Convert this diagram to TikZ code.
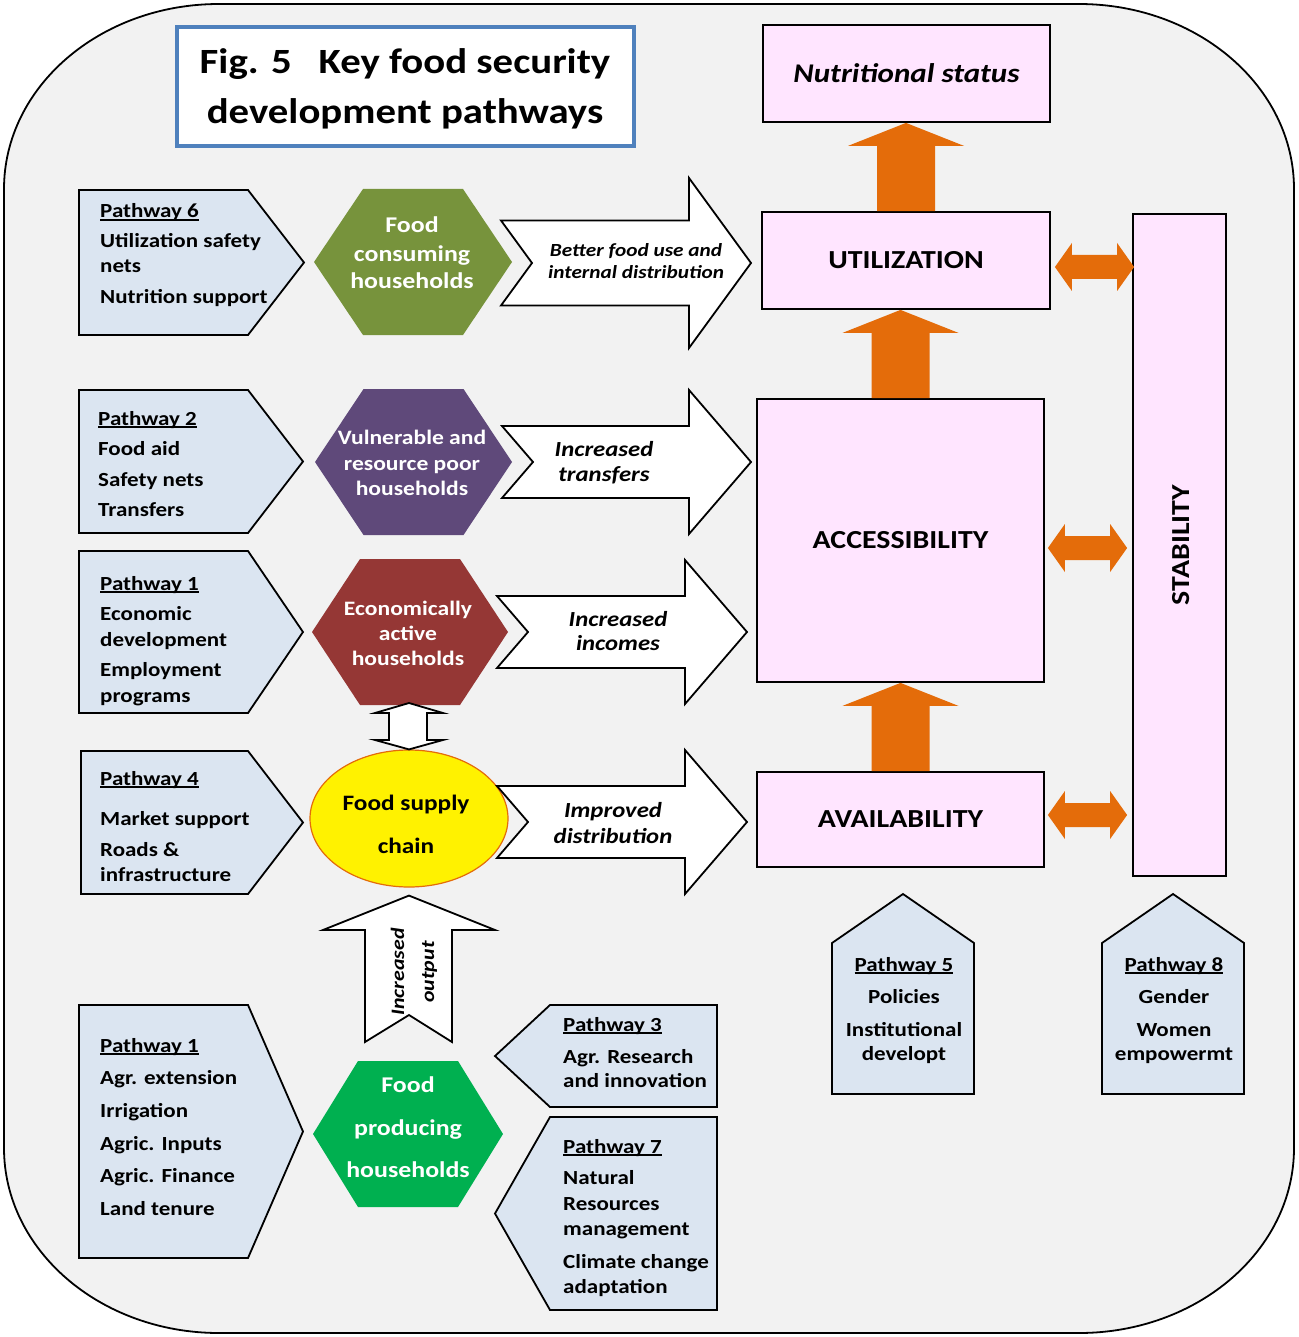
\documentclass[tikz,border=0pt]{standalone}
\usepackage{fontspec}
\setmainfont{Carlito}[FakeStretch=1.15]
\usetikzlibrary{calc,shapes.geometric}

\definecolor{bgrey}{HTML}{F2F2F2}
\definecolor{pathblue}{HTML}{DBE5F1}
\definecolor{boxpink}{HTML}{FFE5FF}
\definecolor{fsorange}{HTML}{E46C0A}
\definecolor{titleblue}{HTML}{4F81BD}
\definecolor{hexolive}{HTML}{77933C}
\definecolor{hexpurple}{HTML}{5F497A}
\definecolor{hexred}{HTML}{953735}
\definecolor{hexgreen}{HTML}{00B050}

% underlined pathway heading
\newsavebox\pwbox
\newcommand\pwul[1]{\sbox\pwbox{#1}\rlap{\rule[-2.6pt]{\wd\pwbox}{1.6pt}}\usebox\pwbox}

% pentagon box: x of flat side, top, bottom, x of corners, x of tip
\newcommand\pent[5]{\filldraw[pathbox] (#1,#2) -- (#4,#2) -- (#5,{(#2+#3)/2}) -- (#4,#3) -- (#1,#3) -- cycle;}
% house box: left, right, shoulder, peak, bottom
\newcommand\house[5]{\filldraw[pathbox] (#1,#5) -- (#1,#3) -- ({(#1+#2)/2},#4) -- (#2,#3) -- (#2,#5) -- cycle;}
% hexagon: centre x, centre y, half width, colour
\newcommand\hexa[4]{\fill[#4] ({#1-#3},#2) -- ({#1-50},{#2-73}) -- ({#1+50},{#2-73}) -- ({#1+#3},#2) -- ({#1+50},{#2+73}) -- ({#1-50},{#2+73}) -- cycle;}
% notched white arrow: tail x, tip x, mid y, shaft half, head half
\newcommand\flowarr[5]{\filldraw[whitearr] (#1,{#3-#4}) -- ({#2-62},{#3-#4}) -- ({#2-62},{#3-#5}) -- (#2,#3) -- ({#2-62},{#3+#5}) -- ({#2-62},{#3+#4}) -- (#1,{#3+#4}) -- ({#1+31},#3) -- cycle;}
% orange block arrow going up from #1 to #2
\newcommand\orangeup[2]{\fill[orarrow] ($(#1)+(-29,0)$) -- ($(#1 |- #2)+(-29,23)$) -- ($(#1 |- #2)+(-58,23)$) -- (#1 |- #2) -- ($(#1 |- #2)+(58,23)$) -- ($(#1 |- #2)+(29,23)$) -- ($(#1)+(29,0)$) -- cycle;}
% orange double arrow between two tips
\newcommand\orangelr[2]{\fill[orarrow] (#1) -- ++(17,-24) -- ++(0,12) -- ($(#2)+(-17,-12)$) -- ++(0,-12) -- (#2) -- ++(-17,24) -- ++(0,-12) -- ($(#1)+(17,12)$) -- ++(0,12) -- cycle;}

\tikzset{
  pathbox/.style={draw=black, fill=pathblue, line width=1.8pt},
  mainbox/.style={draw=black, fill=boxpink, line width=1.8pt, font=\fontsize{26}{31}\selectfont\bfseries},
  whitearr/.style={draw=black, fill=white, line width=1.8pt},
  orarrow/.style={fill=fsorange},
  ptext/.style={anchor=base west, inner sep=0pt, font=\fontsize{20}{24}\selectfont\bfseries},
  pctext/.style={ptext, anchor=base},
  hextext/.style={anchor=base, inner sep=0pt, text=white, font=\fontsize{22.5}{28}\selectfont\bfseries},
  arrtext/.style={anchor=base, inner sep=0pt, font=\fontsize{21.5}{26}\selectfont\bfseries\itshape},
}

\begin{document}
\begin{tikzpicture}[x=1pt, y=-1pt]
\useasboundingbox (0,0) rectangle (1298,1337);

% outer frame
\filldraw[fill=bgrey, line width=1.8pt] (219,4) -- (1079,4)
  arc[start angle=-90, end angle=0, x radius=215, y radius=185] -- (1294,1148)
  arc[start angle=0, end angle=90, x radius=215, y radius=185] -- (219,1333)
  arc[start angle=90, end angle=180, x radius=215, y radius=185] -- (4,189)
  arc[start angle=180, end angle=270, x radius=215, y radius=185] -- cycle;

% title
\node[draw=titleblue, line width=4pt, fill=white, minimum width=457pt, minimum height=119pt] (title) at (405.5,86.5) {};
\node[anchor=base, inner sep=0pt, font=\fontsize{35.5}{43}\selectfont\bfseries] (title1) at (405,74) {Fig. 5\hspace{27pt}Key food security};
\node[anchor=base, inner sep=0pt, font=\fontsize{35.5}{43}\selectfont\bfseries] (title2) at (405,124) {development pathways};

% four dimensions
\node[mainbox, minimum width=287pt, minimum height=97pt, font=\fontsize{27}{32}\selectfont\bfseries\itshape] (nutr) at (906.5,73.5) {Nutritional status};
\node[mainbox, minimum width=288pt, minimum height=97pt] (util) at (906,260.5) {UTILIZATION};
\node[mainbox, minimum width=287pt, minimum height=283pt] (acc) at (900.5,540.5) {ACCESSIBILITY};
\node[mainbox, minimum width=287pt, minimum height=95pt] (avail) at (900.5,819.5) {AVAILABILITY};
\node[mainbox, minimum width=93pt, minimum height=662pt] (stab) at (1179.5,545) {};
\node[rotate=90, inner sep=0pt, font=\fontsize{26}{31}\selectfont\bfseries] (stabtext) at ($(stab.center)+(1.5,0)$) {STABILITY};

\orangeup{util.north}{nutr.south}
\orangeup{acc.north}{util.south}
\orangeup{avail.north}{acc.south}

\coordinate (h1l) at ($(util.east)+(4,6.5)$);
\coordinate (h1r) at ($(stab.west |- h1l)+(2,0)$);
\coordinate (h2l) at ($(acc.east)+(3,7.5)$);
\coordinate (h2r) at ($(stab.west |- h2l)+(-5,0)$);
\coordinate (h3l) at ($(avail.east)+(3,-4.5)$);
\coordinate (h3r) at ($(stab.west |- h3l)+(-5,0)$);
\orangelr{h1l}{h1r}
\orangelr{h2l}{h2r}
\orangelr{h3l}{h3r}

% pathway boxes
\pent{79}{190}{335}{248}{304}
\pent{79}{390}{533}{248}{303}
\pent{79}{551}{713}{248}{303}
\pent{81}{751}{894}{248}{303}
\pent{79}{1005}{1258}{248}{303}
\pent{717}{1005}{1107}{550}{495}
\pent{717}{1117}{1310}{550}{495}
\house{832}{974}{943}{894}{1094}
\house{1102}{1244}{943}{894}{1094}

\foreach \ty/\tx in {218/\pwul{Pathway 6}, 248/Utilization safety, 273/nets, 303/Nutrition support}
  \node[ptext] (pw6-\ty) at (100,\ty) {\tx};
\foreach \ty/\tx in {425/\pwul{Pathway 2}, 455/Food aid, 486/Safety nets, 516/Transfers}
  \node[ptext] (pw2-\ty) at (98,\ty) {\tx};
\foreach \ty/\tx in {590/\pwul{Pathway 1}, 620/Economic, 646/development, 676/Employment, 702/programs}
  \node[ptext] (pw1a-\ty) at (100,\ty) {\tx};
\foreach \ty/\tx in {785/\pwul{Pathway 4}, 825/Market support, 856/Roads \&, 881/infrastructure}
  \node[ptext] (pw4-\ty) at (100,\ty) {\tx};
\foreach \ty/\tx in {1052/\pwul{Pathway 1}, 1084/Agr. extension, 1117/Irrigation, 1150/Agric. Inputs, 1182/Agric. Finance, 1215/Land tenure}
  \node[ptext] (pw1b-\ty) at (100,\ty) {\tx};
\foreach \ty/\tx in {1031/\pwul{Pathway 3}, 1063/Agr. Research, 1087/and innovation}
  \node[ptext] (pw3-\ty) at (563,\ty) {\tx};
\foreach \ty/\tx in {1153/\pwul{Pathway 7}, 1184/Natural, 1210/Resources, 1235/management, 1268/Climate change, 1293/adaptation}
  \node[ptext] (pw7-\ty) at (563,\ty) {\tx};
\foreach \ty/\tx in {971/\pwul{Pathway 5}, 1003/Policies, 1036/Institutional, 1060/developt}
  \node[pctext] (pw5-\ty) at (904,\ty) {\tx};
\foreach \ty/\tx in {971/\pwul{Pathway 8}, 1003/Gender, 1036/Women, 1060/empowermt}
  \node[pctext] (pw8-\ty) at (1174,\ty) {\tx};

% household groups
\hexa{413}{262}{99}{hexolive}
\hexa{413.5}{462}{98.5}{hexpurple}
\hexa{410}{632}{98}{hexred}
\hexa{408}{1134}{95}{hexgreen}
\foreach \ty/\tx in {233/Food, 262/consuming, 289/households}
  \node[hextext] (hcons-\ty) at (412,\ty) {\tx};
\foreach \ty/\tx in {444/Vulnerable and, 470/resource poor, 495/households}
  \node[hextext, font=\fontsize{20.5}{25}\selectfont\bfseries] (hvuln-\ty) at (412,\ty) {\tx};
\foreach \ty/\tx in {615/Economically, 640/active, 665/households}
  \node[hextext, font=\fontsize{20.5}{25}\selectfont\bfseries] (hecon-\ty) at (408,\ty) {\tx};
\foreach \ty/\tx in {1092/Food, 1135/producing, 1177/households}
  \node[hextext] (hprod-\ty) at (408,\ty) {\tx};

% food supply chain
\node[ellipse, draw=fsorange, line width=1.2pt, fill=yellow, minimum width=198pt, minimum height=137pt, inner sep=0pt] (fsc) at (409,818.5) {};
\foreach \ty/\tx in {810/Food supply, 853/chain}
  \node[anchor=base, inner sep=0pt, font=\fontsize{22}{26}\selectfont\bfseries] (fsc-\ty) at (406,\ty) {\tx};
\filldraw[whitearr] (409,703) -- (443,713) -- (427,713) -- (427,740) -- (443,740) -- (fsc.north)
  -- (375,740) -- (389,740) -- (389,713) -- (375,713) -- cycle;
\filldraw[whitearr] ($(fsc.south)+(0,8)$) -- (495,930) -- (452,930) -- (452,1042) -- (409,1015)
  -- (365,1042) -- (365,930) -- (323,930) -- cycle;
\node[arrtext, rotate=90, font=\fontsize{19}{23}\selectfont\bfseries\itshape] (incout1) at (404,972) {Increased};
\node[arrtext, rotate=90, font=\fontsize{19}{23}\selectfont\bfseries\itshape] (incout2) at (434,972) {output};

% flows to the dimensions
\flowarr{501}{751}{263}{42.5}{85}
\flowarr{502}{751}{462}{36}{72}
\flowarr{497}{747}{632}{36}{72}
\flowarr{497}{747}{822}{36}{72}
\foreach \ty/\tx in {257/Better food use and, 279/internal distribution}
  \node[arrtext, font=\fontsize{18.5}{22}\selectfont\bfseries\itshape] (fl1-\ty) at (636,\ty) {\tx};
\foreach \ty/\tx in {456/Increased, 481/transfers}
  \node[arrtext] (fl2-\ty) at (604,\ty) {\tx};
\foreach \ty/\tx in {626/Increased, 650/incomes}
  \node[arrtext] (fl3-\ty) at (618,\ty) {\tx};
\foreach \ty/\tx in {817/Improved, 843/distribution}
  \node[arrtext] (fl4-\ty) at (613,\ty) {\tx};
\end{tikzpicture}
\end{document}
